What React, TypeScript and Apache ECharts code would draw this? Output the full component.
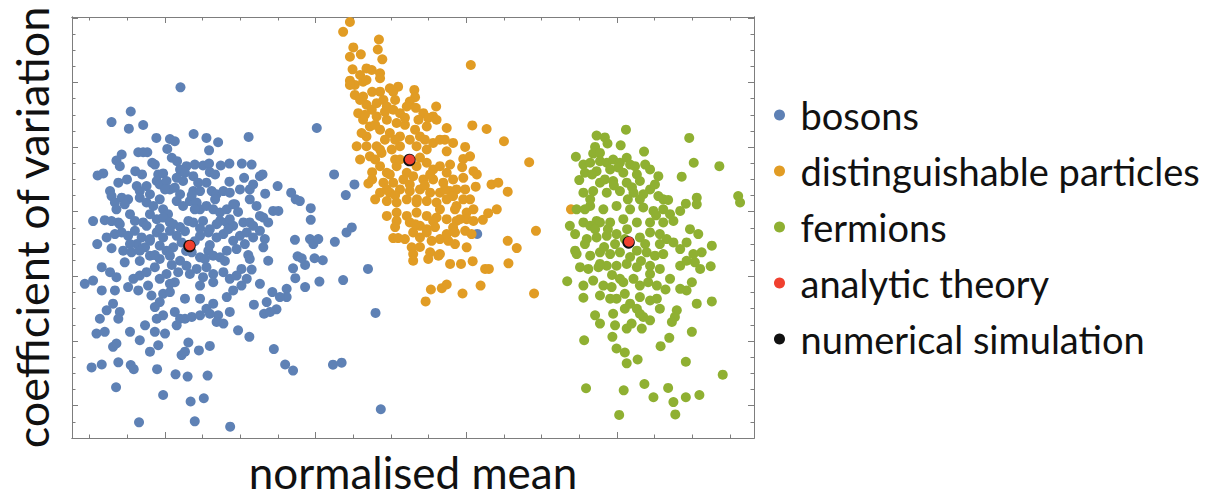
import React, { useEffect, useRef } from "react";
import * as echarts from "echarts";

// x: normalised mean (arbitrary units, minor tick = 1), y: coefficient of variation (arbitrary units, minor tick = 1)
const bosons: [number, number][] = [
  [4.41,21.70],[3.09,20.20],[2.58,19.55],[3.04,19.14],[3.42,19.37],[8.03,19.18],[3.77,18.57],[4.13,18.50],[4.26,18.36],[4.76,18.81],
  [5.10,18.57],[5.41,18.30],[6.22,18.63],[4.06,17.89],[5.17,17.80],[2.85,17.54],[2.71,17.17],[2.80,16.82],[3.29,17.68],[3.42,17.68],
  [3.53,17.68],[4.18,17.34],[4.32,17.13],[3.66,17.03],[4.57,16.82],[4.42,16.51],[5.01,16.86],[5.17,16.98],[5.19,16.45],[5.48,16.86],
  [5.71,16.98],[6.04,16.98],[6.30,16.92],[2.21,16.25],[2.36,16.37],[3.21,16.51],[3.39,16.31],[3.82,16.31],[3.95,16.37],[6.52,16.20],
  [6.59,16.31],[2.76,15.80],[5.71,15.86],[6.10,16.10],[6.99,15.59],[7.35,15.18],[7.47,14.77],[2.54,15.28],[2.58,14.97],[3.25,15.59],
  [3.51,15.59],[3.33,15.28],[3.78,15.90],[3.86,15.69],[4.04,15.90],[4.13,15.38],[4.40,16.62],[4.53,16.41],[4.31,16.10],[4.48,15.90],
  [4.26,15.49],[4.75,16.20],[4.88,15.80],[4.75,15.28],[4.93,15.28],[5.10,15.80],[5.24,15.28],[5.37,15.08],[5.55,15.28],[5.72,15.18],
  [5.99,15.38],[6.25,15.38],[6.34,15.69],[6.66,15.12],[2.85,14.87],[3.02,14.77],[2.67,14.57],[2.71,14.15],[3.33,14.87],[3.51,14.57],
  [3.69,14.36],[3.86,14.77],[3.95,14.15],[4.08,13.85],[4.31,14.66],[4.48,14.36],[4.66,14.66],[4.84,14.57],[4.93,14.15],[5.10,14.36],
  [5.28,14.15],[5.46,13.95],[5.64,14.15],[5.81,14.46],[6.25,14.77],[6.43,14.36],[6.52,13.74],[6.87,14.05],[7.01,14.05],[5.94,13.99],
  [7.87,14.22],[7.87,13.50],[2.09,13.42],[2.40,13.48],[2.58,13.42],[2.76,13.34],[3.20,13.43],[3.42,13.34],[3.78,13.54],[3.95,13.64],
  [4.13,13.34],[4.62,13.43],[4.75,13.34],[5.01,13.43],[5.46,13.43],[5.64,13.34],[6.08,13.34],[6.25,13.34],[6.61,13.64],[6.74,13.34],
  [3.51,13.13],[4.22,13.23],[5.37,13.23],[5.81,13.13],[6.34,13.13],[4.40,13.05],[4.93,12.98],[2.20,12.00],[2.58,11.74],[2.45,12.41],
  [2.67,12.62],[2.85,12.72],[3.02,12.51],[3.20,12.82],[3.38,12.41],[3.25,12.00],[3.47,11.80],[3.60,12.20],[3.78,12.72],[3.95,12.41],
  [4.13,12.82],[4.31,12.51],[4.44,12.10],[4.22,11.80],[4.04,11.59],[3.86,11.90],[4.93,12.51],[5.15,12.72],[5.37,12.41],[5.55,12.62],
  [5.68,12.92],[5.81,12.20],[5.99,12.51],[6.17,12.72],[6.34,12.41],[6.52,12.82],[6.65,12.31],[6.61,11.80],[7.45,12.26],[7.85,12.31],
  [7.94,12.00],[8.07,12.31],[2.89,11.59],[3.11,11.49],[3.33,11.59],[2.93,10.87],[3.60,11.28],[3.86,11.08],[4.13,11.28],[4.40,10.97],
  [4.71,11.49],[4.93,11.18],[5.15,11.59],[5.28,11.28],[5.46,11.18],[5.64,11.59],[5.90,11.69],[6.21,11.32],[6.74,10.97],[7.52,11.24],
  [7.72,10.71],[7.40,10.50],[7.97,11.12],[1.87,9.54],[2.09,9.74],[2.32,10.57],[2.54,10.26],[2.71,9.95],[2.32,9.13],[2.67,9.13],
  [3.02,9.34],[3.29,9.13],[3.55,9.43],[3.16,9.85],[3.33,10.05],[3.51,10.26],[3.73,10.57],[3.86,9.85],[4.04,10.15],[4.26,9.64],
  [4.35,10.26],[4.57,10.66],[4.84,10.46],[5.10,10.57],[5.28,10.15],[5.01,9.95],[4.93,9.43],[5.28,9.64],[5.55,10.26],[5.72,9.85],
  [5.90,10.05],[6.03,10.46],[6.17,9.85],[6.30,10.42],[6.03,9.43],[5.81,9.13],[5.64,8.72],[6.85,9.03],[7.23,9.23],[7.23,8.72],
  [7.05,8.72],[6.36,8.25],[6.70,8.41],[6.63,7.69],[6.96,7.96],[6.79,7.80],[7.72,9.34],[7.46,9.89],[8.10,9.68],[3.64,8.82],
  [3.95,8.92],[4.13,9.03],[3.86,8.41],[2.45,7.90],[2.62,8.31],[2.80,7.80],[2.76,7.38],[2.27,7.38],[2.18,6.46],[2.40,6.57],
  [3.07,6.57],[3.47,6.97],[3.33,6.05],[3.60,5.34],[3.73,8.10],[3.78,7.38],[3.95,7.59],[3.73,6.57],[4.00,6.46],[3.82,5.74],
  [4.26,7.80],[4.40,7.38],[4.31,6.97],[4.53,7.38],[4.71,7.49],[4.93,7.59],[5.10,8.00],[5.28,8.31],[5.41,7.59],[5.55,7.08],
  [5.37,7.18],[5.19,7.69],[5.72,7.80],[5.94,6.66],[6.24,6.26],[2.62,5.64],[2.71,5.85],[4.62,5.91],[4.90,5.42],[5.19,5.70],
  [4.44,5.13],[4.53,5.34],[2.05,4.37],[2.32,4.55],[2.76,4.68],[3.09,4.51],[3.17,4.26],[3.79,4.26],[4.28,3.94],[4.60,3.80],
  [5.13,3.86],[6.89,5.50],[7.19,4.55],[7.40,4.17],[2.70,3.14],[3.95,2.66],[4.68,2.26],[5.03,2.46],[3.31,0.97],[4.79,1.03],
  [5.73,0.70],[8.51,12.14],[8.82,12.72],[8.96,13.03],[7.63,11.12],[8.19,11.00],[8.73,9.77],[9.39,10.46],[9.59,7.74],[8.46,4.54],
  [8.69,4.66],[9.73,1.78],[12.29,12.63],[8.49,16.31],[9.03,15.69],[8.80,15.03],[7.58,14.66],[3.60,13.85],[4.53,12.80],[4.79,12.18],
  [5.19,11.94],[3.73,11.32],[4.18,10.71],[3.07,13.85],[2.99,16.00],[4.71,15.02],[4.56,11.57],
  [3.60,15.08],[4.00,15.38],[4.40,15.08],[4.79,14.15],[5.33,14.77],[5.72,13.54],[6.12,12.00],[5.59,10.95],[5.06,11.08],[4.66,10.15],
  [4.13,9.54],[3.60,12.31],[3.33,10.95],[3.07,12.00],[2.80,13.23],[2.93,14.46],[3.73,16.92],[4.79,16.92],[5.33,16.31],[5.86,14.46],
  [4.53,8.62],[4.93,8.62],[6.25,11.08],[6.52,9.54],[3.86,12.98],[5.19,12.92],
];

const distinguishable: [number, number][] = [
  [8.91,25.74],[8.73,25.13],[9.68,24.66],[9.65,24.04],[9.00,24.17],[8.91,23.59],[9.20,23.74],[9.77,23.43],[12.12,23.08],[8.98,22.81],
  [9.35,22.87],[9.49,22.77],[9.18,22.46],[9.71,22.57],[9.71,22.26],[8.91,22.11],[9.04,21.85],[8.91,21.85],[9.26,22.05],[9.35,22.15],
  [9.04,21.23],[9.26,21.13],[9.71,21.43],[9.97,21.64],[10.19,21.74],[10.06,21.43],[10.62,21.54],[10.64,21.09],[10.50,20.82],[10.42,20.51],
  [11.20,20.51],[9.35,20.62],[9.49,20.31],[9.62,20.72],[9.80,20.92],[9.89,20.51],[10.06,20.31],[10.24,20.10],[9.62,19.90],[9.89,19.69],
  [10.15,19.49],[9.26,19.69],[9.13,20.10],[9.44,19.28],[9.71,19.08],[9.97,18.87],[10.24,18.66],[10.50,18.46],[10.77,18.66],[10.95,19.28],
  [11.12,19.90],[10.86,20.10],[10.73,19.69],[10.99,19.80],[11.21,19.69],[9.35,18.66],[9.22,18.87],[9.09,18.05],[9.35,18.05],[9.62,18.05],
  [9.44,17.43],[9.75,17.64],[10.02,17.85],[10.24,18.05],[10.68,18.05],[10.95,17.85],[11.12,18.26],[11.30,18.46],[11.48,19.18],[11.48,17.74],
  [11.65,18.26],[11.97,18.01],[12.16,19.34],[12.54,19.12],[13.00,18.36],[9.50,16.45],[9.40,15.75],[9.71,16.82],[9.89,16.41],[10.15,16.82],
  [10.42,16.41],[10.68,16.82],[10.95,17.03],[11.12,16.62],[11.30,16.82],[11.48,16.41],[11.65,16.00],[11.39,15.80],[11.12,16.00],[10.86,16.00],
  [10.59,16.20],[10.33,16.00],[10.06,15.80],[9.80,15.80],[9.71,15.18],[9.97,15.18],[10.24,15.38],[10.50,15.28],[10.77,15.38],[11.04,15.18],
  [11.30,15.18],[11.57,15.28],[11.74,15.38],[11.92,17.27],[12.10,17.43],[11.89,16.76],[12.19,16.51],[12.28,16.31],[11.92,16.10],[12.25,15.55],
  [12.67,15.69],[12.85,15.80],[13.10,15.24],[13.67,17.06],[9.89,14.66],[10.15,14.57],[10.42,14.77],[10.68,14.57],[10.95,14.66],[11.21,14.57],
  [11.48,14.77],[11.65,14.97],[11.92,14.77],[11.74,14.36],[12.01,13.95],[12.19,14.15],[9.89,13.74],[10.15,13.95],[10.42,13.74],[10.68,13.95],
  [10.95,13.74],[11.21,13.64],[11.48,13.54],[11.74,13.43],[12.01,13.54],[12.44,13.50],[12.58,13.91],[12.81,14.15],[10.15,13.43],[10.50,13.34],
  [10.77,13.13],[10.95,12.92],[11.12,13.43],[11.65,13.03],[11.83,13.54],[12.19,13.43],[10.06,12.37],[10.19,12.37],[10.59,12.72],[10.77,12.41],
  [10.95,12.72],[11.08,12.20],[11.30,12.31],[11.52,12.20],[11.48,12.62],[11.70,12.72],[11.97,12.82],[12.14,12.62],[10.55,11.80],[10.59,11.38],
  [10.59,10.97],[11.04,11.49],[10.99,11.08],[11.26,11.28],[12.01,11.80],[11.57,10.77],[11.86,10.77],[12.17,10.94],[12.50,10.46],[12.60,10.46],
  [11.06,9.19],[11.35,9.27],[11.48,9.50],[10.92,8.45],[11.90,8.94],[12.38,9.43],[13.10,12.20],[13.34,11.75],[13.12,10.81],[13.85,12.82],
  [13.80,8.94],[14.78,14.15],[9.58,17.23],[10.11,17.23],[10.77,17.35],[9.84,18.46],[10.37,19.38],[10.66,20.43],[10.11,15.02],[10.90,15.63],
  [11.30,14.15],[9.58,14.77],[9.18,20.92],[9.50,21.42],
  [9.31,20.00],[9.58,19.38],[9.84,20.18],[10.11,20.92],[10.37,19.82],[10.64,19.08],[10.11,18.46],[9.71,17.85],[9.18,17.23],[9.50,16.00],
  [9.97,16.31],[10.50,15.69],[11.04,16.31],[11.43,15.38],[11.70,14.15],[11.17,13.05],[10.64,13.23],[10.11,13.05],[10.37,12.31],[10.77,11.82],
  [11.30,11.38],[11.70,12.00],[10.24,17.23],[10.90,18.46],[11.57,16.92],[11.97,15.38],[12.10,14.77],[11.43,18.46],[9.89,15.38],[10.69,14.77],
];

const fermions: [number, number][] = [
  [16.24,19.08],[15.46,18.71],[15.68,18.60],[15.75,18.22],[16.10,18.11],[17.92,18.57],[15.42,18.01],[15.37,17.60],[15.55,17.64],[16.72,17.72],
  [14.91,17.40],[18.04,17.03],[18.72,16.82],[15.11,16.92],[15.29,17.03],[15.55,17.13],[15.73,17.03],[15.90,17.23],[16.08,17.03],[16.26,17.34],
  [16.35,16.92],[16.48,16.82],[15.15,16.41],[15.46,16.51],[15.82,16.62],[16.17,16.41],[16.53,16.31],[16.88,16.62],[17.10,16.20],[15.00,15.96],
  [15.55,15.80],[15.90,15.90],[16.26,15.80],[16.61,15.90],[16.88,15.38],[17.72,16.17],[15.11,15.18],[15.37,15.28],[15.73,15.18],[16.08,15.28],
  [16.44,15.18],[16.70,15.08],[17.10,14.97],[17.23,14.77],[17.36,14.73],[19.22,14.97],[19.27,14.57],[18.12,14.87],[18.12,14.46],[17.83,14.50],
  [17.68,14.05],[14.93,14.15],[15.29,14.36],[15.64,14.15],[15.99,14.36],[16.35,14.15],[16.70,14.26],[16.97,14.05],[17.23,14.15],[14.75,13.13],
  [15.11,13.34],[15.46,13.43],[15.82,13.34],[16.17,13.54],[16.53,13.34],[16.88,13.34],[17.23,13.34],[17.50,13.43],[15.29,13.13],[15.55,13.34],
  [15.20,12.31],[15.46,12.41],[15.73,12.51],[15.99,12.62],[16.61,12.41],[16.88,12.72],[17.14,12.62],[17.32,12.31],[14.89,11.59],[14.93,11.38],
  [17.50,12.10],[17.68,11.69],[17.85,12.10],[18.16,12.62],[18.52,11.90],[18.25,11.49],[18.03,11.38],[15.29,11.28],[15.55,11.49],[15.82,11.38],
  [16.08,11.49],[16.53,11.59],[16.79,11.49],[17.01,11.28],[17.23,11.38],[15.02,10.57],[15.24,10.46],[15.51,10.57],[15.73,10.66],[15.99,10.66],
  [16.26,10.77],[16.53,10.57],[16.88,10.66],[17.14,10.46],[17.68,10.66],[17.85,10.97],[18.07,10.87],[18.49,10.63],[14.68,9.70],[15.11,9.43],
  [15.37,9.74],[15.64,9.43],[15.86,9.34],[16.17,9.64],[16.44,9.85],[16.61,9.43],[16.83,9.64],[17.06,9.43],[17.29,9.19],[17.68,9.23],
  [17.85,9.13],[17.99,9.64],[15.11,8.68],[18.12,8.31],[18.52,8.45],[15.55,8.82],[15.99,8.62],[16.35,8.31],[16.61,8.72],[16.88,8.51],
  [17.06,8.62],[15.42,7.59],[15.55,7.08],[15.90,7.69],[16.21,8.00],[16.53,8.00],[16.70,7.49],[16.88,7.28],[17.59,7.90],[17.54,7.49],
  [17.46,7.18],[15.95,6.97],[16.26,6.77],[16.39,7.08],[16.66,6.77],[17.99,6.57],[15.13,6.05],[15.88,6.26],[17.39,6.20],[17.16,5.68],
  [15.99,5.54],[16.21,5.29],[16.26,4.62],[16.55,4.86],[17.83,4.72],[18.81,3.92],[15.18,3.08],[16.18,2.95],[16.73,3.34],[16.97,2.52],
  [17.36,3.10],[17.50,2.22],[17.83,2.52],[18.19,2.66],[16.06,1.43],[17.55,1.46],[15.95,12.00],[15.66,11.82],[16.27,12.92],[16.75,12.00],
  [15.42,12.92],[17.04,13.78],[15.87,10.09],[16.64,10.95],[15.29,14.77],[16.29,14.77],[15.92,15.63],[15.76,12.92],
  [15.34,16.31],[15.68,16.00],[16.03,16.74],[16.40,15.51],[16.75,16.92],[17.01,15.69],[17.41,13.85],[17.14,12.00],[16.35,11.20],[15.55,10.77],
  [15.15,12.00],[14.89,12.62],[16.08,9.85],[16.88,10.15],[17.41,9.85],[15.82,8.62],[16.21,8.92],[16.61,7.69],[17.14,8.00],[17.94,12.92],
  [18.21,10.46],[15.15,14.15],[16.61,14.77],[16.21,12.31],
];

const analyticTheory: [number, number][] = [[4.66, 11.91], [10.50, 17.23], [16.32, 12.15]];
const numericalSimulation: [number, number][] = [[4.65, 11.88], [10.49, 17.20], [16.31, 12.10]];

const xMajorTicks = [4, 8, 12, 16];
const xMinorTicks = [2, 3, 5, 6, 7, 9, 10, 11, 13, 14, 15, 17, 18, 19];
const yMajorTicks = [2, 6, 10, 14, 18, 22, 26];
const yMinorTicks = [1, 3, 4, 5, 7, 8, 9, 11, 12, 13, 15, 16, 17, 19, 20, 21, 23, 24, 25];

const X_MIN = 1.53, X_MAX = 19.64, Y_MIN = 0, Y_MAX = 26.05;
const FRAME = "#7d7d7d";
const FONT = "Lato";

function frameAxis(kind: "x" | "y", position: string, ticks: number[], len: number, extra: any = {}) {
  return {
    type: "value",
    position,
    min: kind === "x" ? X_MIN : Y_MIN,
    max: kind === "x" ? X_MAX : Y_MAX,
    axisLine: { show: true, onZero: false, lineStyle: { color: FRAME, width: 1 } },
    axisTick: { show: true, inside: true, length: len, customValues: ticks, lineStyle: { color: FRAME, width: 1 } },
    axisLabel: { show: false },
    splitLine: { show: false },
    ...extra,
  };
}

export default function App() {
  const ref = useRef<HTMLDivElement>(null);
  useEffect(() => {
    if (!ref.current) return;
    const chart = echarts.init(ref.current, undefined, { renderer: "svg" });
    const dot = 10;
    chart.setOption({
      animation: false,
      backgroundColor: "#fff",
      grid: { left: 72, right: 466, top: 17, bottom: 59, containLabel: false },
      xAxis: [
        frameAxis("x", "bottom", xMajorTicks, 6, {
          name: "normalised mean", nameLocation: "middle", nameGap: 12,
          nameTextStyle: { fontFamily: FONT, fontSize: 44, color: "#111" },
        }),
        frameAxis("x", "bottom", xMinorTicks, 3.5),
        frameAxis("x", "top", xMajorTicks, 6),
        frameAxis("x", "top", xMinorTicks, 3.5),
      ],
      yAxis: [
        frameAxis("y", "left", yMajorTicks, 6, {
          name: "coefficient of variation", nameLocation: "middle", nameGap: 18,
          nameTextStyle: { fontFamily: FONT, fontSize: 45, color: "#111" },
        }),
        frameAxis("y", "left", yMinorTicks, 3.5),
        frameAxis("y", "right", yMajorTicks, 6),
        frameAxis("y", "right", yMinorTicks, 3.5),
      ],
      legend: {
        orient: "vertical",
        left: 769,
        top: 88,
        itemWidth: 32,
        itemHeight: 11,
        itemGap: 12,
        icon: "circle",
        textStyle: { fontFamily: FONT, fontSize: 38, color: "#111", lineHeight: 44 },
        data: ["bosons", "distinguishable particles", "fermions", "analytic theory", "numerical simulation"],
      },
      series: [
        { name: "bosons", type: "scatter", data: bosons, symbolSize: dot, itemStyle: { color: "#5E81B5", opacity: 1 }, silent: true },
        { name: "distinguishable particles", type: "scatter", data: distinguishable, symbolSize: dot, itemStyle: { color: "#E19C24", opacity: 1 }, silent: true },
        { name: "fermions", type: "scatter", data: fermions, symbolSize: dot, itemStyle: { color: "#8FB032", opacity: 1 }, silent: true },
        { name: "numerical simulation", type: "scatter", data: numericalSimulation, symbolSize: 12.5, itemStyle: { color: "#111", opacity: 1 }, z: 5, silent: true },
        { name: "analytic theory", type: "scatter", data: analyticTheory, symbolSize: 10, itemStyle: { color: "#F0402F", opacity: 1 }, z: 6, silent: true },
      ],
    });
    return () => chart.dispose();
  }, []);
  return <div ref={ref} style={{ position: "absolute", left: 0, top: 0, width: 1220, height: 499, background: "#fff" }} />;
}
